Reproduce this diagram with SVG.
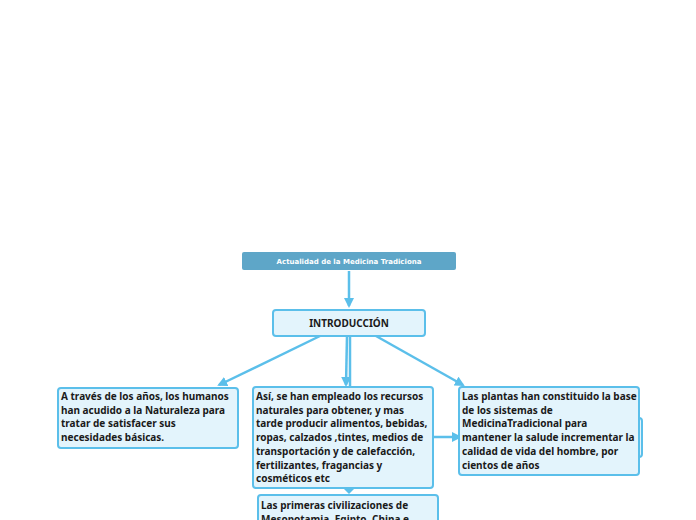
<svg xmlns="http://www.w3.org/2000/svg" width="696" height="520" viewBox="0 0 696 520">
<defs>
<marker id="ah" markerWidth="10" markerHeight="10" refX="8" refY="5" orient="auto" markerUnits="userSpaceOnUse">
<path d="M0,0 L10,5 L0,10 Z" fill="#5bbfea"/>
</marker>
<style>
.box{fill:#e3f4fc;stroke:#5bbfea;stroke-width:2}
.t{font-family:"Noto Sans","Open Sans",sans-serif;font-weight:700;font-size:10px;fill:#1a1a1a}
.c{stroke:#5bbfea;stroke-width:2.5;fill:none}
</style>
</defs>
<rect width="696" height="520" fill="#ffffff"/>
<g id="connectors">
<line class="c" x1="349" y1="271" x2="349" y2="306" marker-end="url(#ah)"/>
<line class="c" x1="320" y1="336" x2="219" y2="385" marker-end="url(#ah)"/>
<line class="c" x1="347" y1="336" x2="346" y2="385" marker-end="url(#ah)"/>
<line class="c" x1="350" y1="336" x2="350" y2="386"/>
<line class="c" x1="376" y1="336" x2="463" y2="385" marker-end="url(#ah)"/>
<line class="c" x1="433" y1="437" x2="460" y2="437" marker-end="url(#ah)"/>
<path d="M343,488 L355,488 L349,494 Z" fill="#5bbfea"/>
</g>
<g id="title">
<rect x="242" y="252" width="214" height="18" rx="2" fill="#5ea6c8"/>
<text x="349" y="264" text-anchor="middle" font-family="DejaVu Sans,sans-serif" font-weight="700" font-size="7px" fill="#ffffff">Actualidad de la Medicina Tradiciona</text>
</g>
<g id="intro">
<rect class="box" x="273" y="310" width="152" height="26" rx="3"/>
<text class="t" x="349" y="327" text-anchor="middle" font-size="10.5px">INTRODUCCIÓN</text>
</g>
<g id="left">
<rect class="box" x="58" y="388" width="180" height="60" rx="3"/>
<text class="t"><tspan x="61" y="400">A través de los años, los humanos</tspan><tspan x="61" y="413.7">han acudido a la Naturaleza para</tspan><tspan x="61" y="427.4">tratar de satisfacer sus</tspan><tspan x="61" y="441.1">necesidades básicas.</tspan></text>
</g>
<g id="middle">
<rect class="box" x="253" y="387" width="180" height="101" rx="3"/>
<text class="t"><tspan x="256" y="400">Así, se han empleado los recursos</tspan><tspan x="256" y="413.7">naturales para obtener, y mas</tspan><tspan x="256" y="427.4">tarde producir alimentos, bebidas,</tspan><tspan x="256" y="441.1">ropas, calzados ,tintes, medios de</tspan><tspan x="256" y="454.8">transportación y de calefacción,</tspan><tspan x="256" y="468.5">fertilizantes, fragancias y</tspan><tspan x="256" y="482.2">cosméticos etc</tspan></text>
</g>
<g id="bottom">
<rect class="box" x="258" y="495" width="180" height="40" rx="3"/>
<text class="t"><tspan x="261" y="509">Las primeras civilizaciones de</tspan><tspan x="261" y="522.7">Mesopotamia, Egipto, China e</tspan></text>
</g>
<g id="right-back">
<rect class="box" x="600" y="418" width="42" height="39" rx="3"/>
</g>
<g id="right">
<rect class="box" x="459" y="387" width="180" height="88" rx="3"/>
<text class="t"><tspan x="462" y="400">Las plantas han constituido la base</tspan><tspan x="462" y="413.7">de los sistemas de</tspan><tspan x="462" y="427.4">MedicinaTradicional para</tspan><tspan x="462" y="441.1">mantener la salude incrementar la</tspan><tspan x="462" y="454.8">calidad de vida del hombre, por</tspan><tspan x="462" y="468.5">cientos de años</tspan></text>
</g>
</svg>
